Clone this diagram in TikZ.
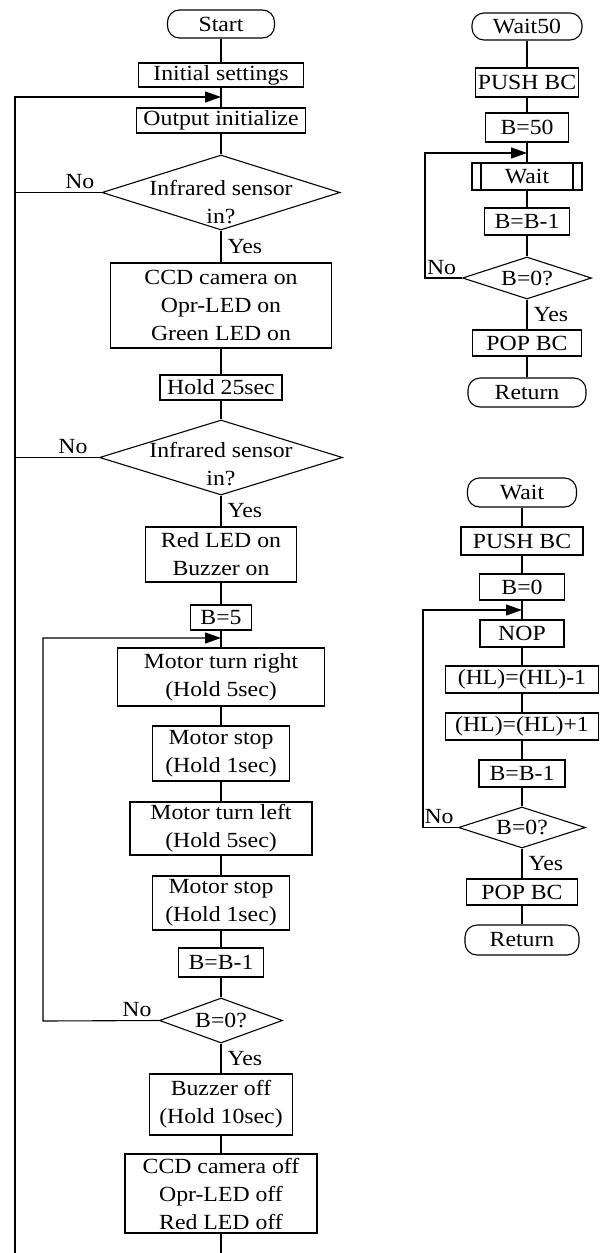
\documentclass[tikz,border=0pt]{standalone}
\usepackage{fontspec}
\setmainfont{Liberation Serif}[FakeStretch=1.1]
\usepackage{tikz}
\usetikzlibrary{shapes,arrows.meta}
\tikzset{
  proc/.style={draw, rectangle, align=center, inner sep=0pt},
  term/.style={draw, rectangle, rounded corners=12pt, inner sep=0pt},
  decide/.style={draw, diamond, inner sep=0pt},
  predef/.style={proc, path picture={
      \draw ([xshift=9pt]path picture bounding box.north west) -- ([xshift=9pt]path picture bounding box.south west);
      \draw ([xshift=-9pt]path picture bounding box.north east) -- ([xshift=-9pt]path picture bounding box.south east);}},
  lbl/.style={inner sep=3pt},
}

\begin{document}
\begin{tikzpicture}[x=1pt,y=-1pt,line width=1.1pt,>={Triangle[length=16pt,width=11pt]},
    font=\fontsize{21.6}{28}\selectfont]
  \useasboundingbox (0,0) rectangle (607,1253);

  % main program
  \node[term, minimum width=107, minimum height=28] (start) at (221,24) {Start};
  \node[proc, minimum width=165, minimum height=24] (init) at (221,75) {Initial settings};
  \coordinate (loopa) at (221,97);
  \node[proc, minimum width=169, minimum height=25] (outinit) at (221,120.5) {Output initialize};
  \node[decide, minimum width=238, minimum height=75,
        label={[align=center,yshift=-10pt]center:Infrared sensor\\in?}] (sensa) at (221,192.5) {};
  \node[proc, minimum width=221, minimum height=85] (ccdon) at (221,305.5) {CCD camera on\\Opr-LED on\\Green LED on};
  \node[proc, minimum width=122, minimum height=25] (holda) at (221,387.5) {Hold 25sec};
  \node[decide, minimum width=243, minimum height=75,
        label={[align=center,yshift=-7pt]center:Infrared sensor\\in?}] (sensb) at (221,457.5) {};
  \node[proc, minimum width=151, minimum height=55] (redon) at (221,554.5) {Red LED on\\Buzzer on};
  \node[proc, minimum width=61, minimum height=25] (bfive) at (221,617.5) {B=5};
  \coordinate (loopb) at (221,638);
  \node[proc, minimum width=207, minimum height=58] (mright) at (221,677) {Motor turn right\\(Hold 5sec)};
  \node[proc, minimum width=137, minimum height=55] (mstopa) at (221,753.5) {Motor stop\\(Hold 1sec)};
  \node[proc, minimum width=182, minimum height=53] (mleft) at (221,828.5) {Motor turn left\\(Hold 5sec)};
  \node[proc, minimum width=137, minimum height=54] (mstopb) at (221,903) {Motor stop\\(Hold 1sec)};
  \node[proc, minimum width=85, minimum height=29] (bdec) at (221,962.5) {B=B-1};
  \node[decide, minimum width=123, minimum height=45, label={center:{B=0?}}] (bzero) at (221,1020.5) {};
  \node[proc, minimum width=143, minimum height=61] (buzoff) at (221,1104.5) {Buzzer off\\(Hold 10sec)};
  \node[proc, minimum width=192, minimum height=79] (ccdoff) at (221,1193.5) {CCD camera off\\Opr-LED off\\Red LED off};
  \coordinate (mainend) at (221,1253);
  \coordinate (outer) at (15,1253);
  \coordinate (inner) at (43,1021);

  \draw (start) -- (init);
  \draw (init) -- (outinit);
  \draw (outinit) -- (sensa);
  \draw (sensa) -- node[lbl, right=3pt] {Yes} (ccdon);
  \draw (ccdon) -- (holda);
  \draw (holda) -- (sensb);
  \draw (sensb) -- node[lbl, right=3pt] {Yes} (redon);
  \draw (redon) -- (bfive);
  \draw (bfive) -- (mright);
  \draw (mright) -- (mstopa);
  \draw (mstopa) -- (mleft);
  \draw (mleft) -- (mstopb);
  \draw (mstopb) -- (bdec);
  \draw (bdec) -- (bzero);
  \draw (bzero) -- node[lbl, right=3pt] {Yes} (buzoff);
  \draw (buzoff) -- (ccdoff);
  \draw (ccdoff) -- (mainend);

  % back loops
  \draw[->] (outer) |- (loopa);
  \draw (sensa.west) -- node[lbl, above, pos=.25] {No} (sensa.west -| outer);
  \draw (sensb.west) -- node[lbl, above, pos=.31] {No} (sensb.west -| outer);
  \draw[->] (bzero.west) -- node[lbl, above, pos=.19] {No} (inner) |- (loopb);

  % subroutine Wait50
  \node[term, minimum width=110, minimum height=27] (wfifty) at (527,26.5) {Wait50};
  \node[proc, minimum width=103, minimum height=29] (pusha) at (527,82.5) {PUSH BC};
  \node[proc, minimum width=83, minimum height=29] (bfifty) at (527,127.5) {B=50};
  \coordinate (loopc) at (527,153);
  \node[predef, minimum width=110, minimum height=27] (callw) at (527,176.5) {Wait};
  \node[proc, minimum width=85, minimum height=27] (bdeca) at (527,221.5) {B=B-1};
  \node[decide, minimum width=129, minimum height=42, label={center:{B=0?}}] (bzeroa) at (527,278) {};
  \node[proc, minimum width=109, minimum height=26] (popa) at (527,343) {POP BC};
  \node[term, minimum width=118, minimum height=29] (reta) at (527,392.5) {Return};

  \draw (wfifty) -- (pusha);
  \draw (pusha) -- (bfifty);
  \draw (bfifty) -- (callw);
  \draw (callw) -- (bdeca);
  \draw (bdeca) -- (bzeroa);
  \draw (bzeroa) -- node[lbl, right=3pt] {Yes} (popa);
  \draw (popa) -- (reta);
  \draw[->] (bzeroa.west) -- node[lbl, above, pos=.55] {No} ++(-37,0) |- (loopc);

  % subroutine Wait
  \node[term, minimum width=109, minimum height=29] (wstart) at (522,492.5) {Wait};
  \node[proc, minimum width=122, minimum height=28] (pushb) at (522,541) {PUSH BC};
  \node[proc, minimum width=85, minimum height=26] (bnull) at (522,587) {B=0};
  \coordinate (loopd) at (522,610);
  \node[proc, minimum width=84, minimum height=27] (nop) at (522,633.5) {NOP};
  \node[proc, minimum width=153, minimum height=27] (hlminus) at (522,679.5) {(HL)=(HL)-1};
  \node[proc, minimum width=153, minimum height=27] (hlplus) at (522,726.5) {(HL)=(HL)+1};
  \node[proc, minimum width=86, minimum height=27] (bdecb) at (522,773.5) {B=B-1};
  \node[decide, minimum width=127, minimum height=41, label={center:{B=0?}}] (bzerob) at (522,827.5) {};
  \node[proc, minimum width=111, minimum height=26] (popb) at (522,892) {POP BC};
  \node[term, minimum width=114, minimum height=30] (retb) at (522,940) {Return};

  \draw (wstart) -- (pushb);
  \draw (pushb) -- (bnull);
  \draw (bnull) -- (nop);
  \draw (nop) -- (hlminus);
  \draw (hlminus) -- (hlplus);
  \draw (hlplus) -- (bdecb);
  \draw (bdecb) -- (bzerob);
  \draw (bzerob) -- node[lbl, right=3pt] {Yes} (popb);
  \draw (popb) -- (retb);
  \draw[->] (bzerob.west) -- node[lbl, above, pos=.54] {No} ++(-35,0) |- (loopd);
\end{tikzpicture}
\end{document}
